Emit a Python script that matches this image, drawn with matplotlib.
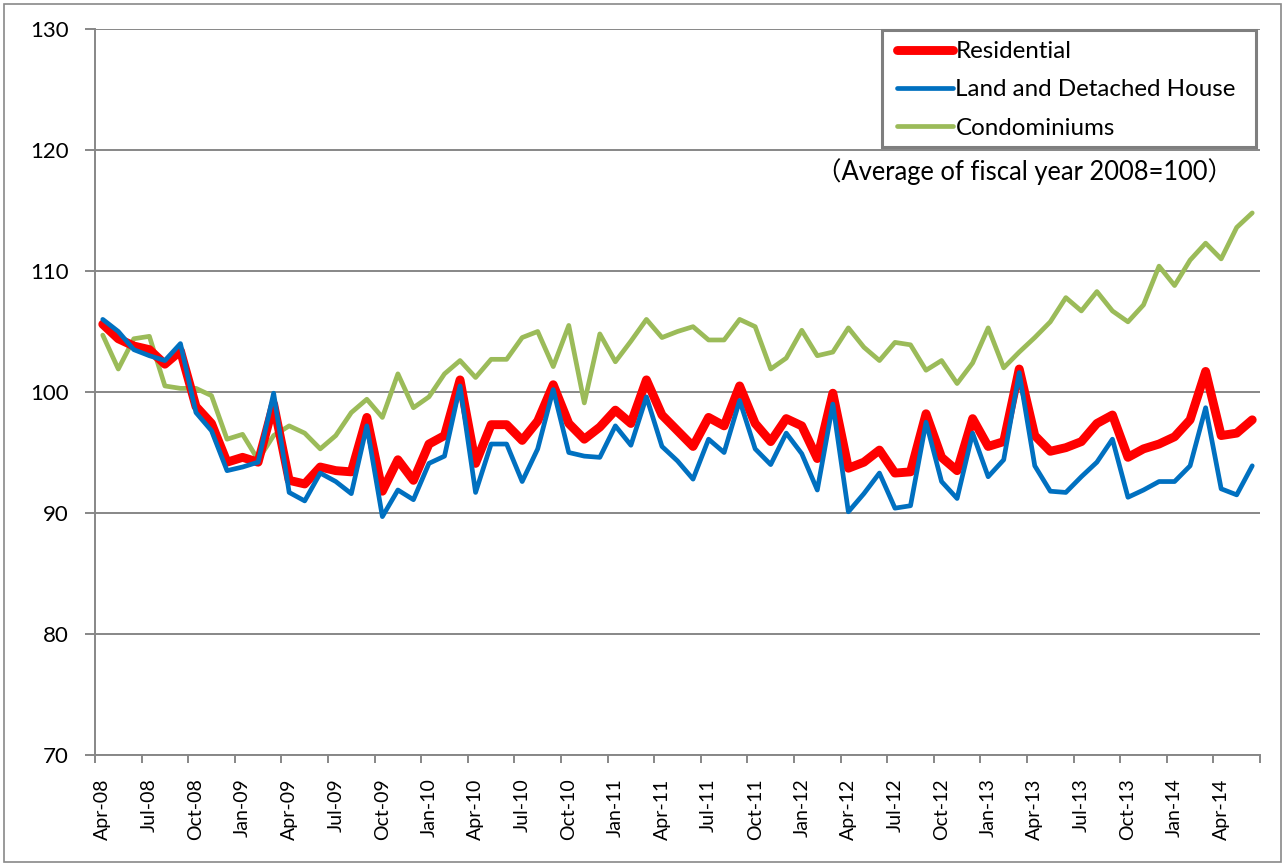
import matplotlib
matplotlib.use("Agg")
import matplotlib.pyplot as plt
from matplotlib.patches import Rectangle
from matplotlib.lines import Line2D
import numpy as np

# ---- data -------------------------------------------------------------
month_names = ["Jan", "Feb", "Mar", "Apr", "May", "Jun",
               "Jul", "Aug", "Sep", "Oct", "Nov", "Dec"]
start_year = 2008
start_month = 3   # April (0-based)
n_points = 75     # Apr-08 .. Jun-14

residential = [
    105.6, 104.4, 103.8, 103.5, 102.3, 103.4, 98.8, 97.4, 94.2, 94.6, 94.2, 99.0,
    92.7, 92.4, 93.8, 93.5, 93.4, 97.9, 91.8, 94.4, 92.7, 95.7, 96.4, 101.0,
    94.1, 97.3, 97.3, 96.0, 97.6, 100.6, 97.4, 96.1, 97.1, 98.5, 97.4, 101.0,
    98.1, 96.8, 95.5, 97.9, 97.2, 100.5, 97.4, 95.9, 97.8, 97.2, 94.5, 99.9,
    93.7, 94.2, 95.2, 93.3, 93.4, 98.2, 94.6, 93.5, 97.8, 95.5, 95.9, 101.9,
    96.4, 95.1, 95.4, 95.9, 97.4, 98.1, 94.6, 95.3, 95.7, 96.3, 97.7, 101.7,
    96.4, 96.6, 97.7,
]
land_detached = [
    106.0, 105.0, 103.5, 103.0, 102.6, 104.0, 98.3, 96.8, 93.5, 93.8, 94.2, 99.9,
    91.7, 91.0, 93.3, 92.6, 91.6, 97.2, 89.7, 91.9, 91.1, 94.1, 94.7, 100.5,
    91.7, 95.7, 95.7, 92.6, 95.3, 100.2, 95.0, 94.7, 94.6, 97.2, 95.6, 99.6,
    95.5, 94.3, 92.8, 96.1, 95.0, 99.3, 95.3, 94.0, 96.6, 94.9, 91.9, 99.0,
    90.1, 91.6, 93.3, 90.4, 90.6, 97.5, 92.6, 91.2, 96.6, 93.0, 94.4, 101.6,
    93.9, 91.8, 91.7, 93.0, 94.2, 96.1, 91.3, 91.9, 92.6, 92.6, 93.9, 98.7,
    92.0, 91.5, 93.9,
]
condominiums = [
    104.7, 101.9, 104.4, 104.6, 100.5, 100.3, 100.3, 99.7, 96.1, 96.5, 94.4, 96.4,
    97.2, 96.6, 95.3, 96.4, 98.3, 99.4, 97.9, 101.5, 98.7, 99.6, 101.5, 102.6,
    101.2, 102.7, 102.7, 104.5, 105.0, 102.1, 105.5, 99.1, 104.8, 102.5, 104.2, 106.0,
    104.5, 105.0, 105.4, 104.3, 104.3, 106.0, 105.4, 101.9, 102.8, 105.1, 103.0, 103.3,
    105.3, 103.7, 102.6, 104.1, 103.9, 101.8, 102.6, 100.7, 102.4, 105.3, 102.0, 103.3,
    104.5, 105.8, 107.8, 106.7, 108.3, 106.7, 105.8, 107.2, 110.4, 108.8, 110.9, 112.3,
    111.0, 113.6, 114.8,
]
series_names = ["Residential", "Land and Detached House", "Condominiums"]
note_text = "（Average of fiscal year 2008=100）"

labels = []
for i in range(n_points):
    m = (start_month + i) % 12
    y = start_year + (start_month + i) // 12
    labels.append(month_names[m] + "-%02d" % (y % 100))

# ---- styling ----------------------------------------------------------
FONT = ["Lato", "Noto Sans CJK JP", "DejaVu Sans"]
plt.rcParams["font.family"] = FONT
GRID = "#878787"
RED = "#FF0000"
BLUE = "#0070C0"
GREEN = "#9BBB59"
LW_RED, LW_BLUE, LW_GREEN = 6.4, 3.4, 3.4

W, H = 1285, 865
fig = plt.figure(figsize=(W / 100, H / 100), dpi=100)
fig.patch.set_facecolor("white")

def px_rect(x0, y0, x1, y1, **kw):
    """Rectangle given in figure pixels measured from the top-left."""
    return Rectangle((x0 / W, 1 - y1 / H), (x1 - x0) / W, (y1 - y0) / H,
                     transform=fig.transFigure, **kw)

# chart-area border
fig.patches.append(px_rect(4, 4, W - 4, H - 3, fill=False,
                           edgecolor="#898989", linewidth=1.2, zorder=0.5))

ax = fig.add_axes([95 / W, 1 - 755 / H, (1260 - 95) / W, (755 - 29) / H])
x = np.arange(n_points)

ax.plot(x, residential, color=RED, lw=LW_RED, solid_joinstyle="round",
        solid_capstyle="round", zorder=3)
ax.plot(x, land_detached, color=BLUE, lw=LW_BLUE, solid_joinstyle="round",
        solid_capstyle="round", zorder=4)
ax.plot(x, condominiums, color=GREEN, lw=LW_GREEN, solid_joinstyle="round",
        solid_capstyle="round", zorder=2)

ax.set_xlim(-0.5, n_points - 0.5)
ax.set_ylim(70, 130)
ax.set_yticks(np.arange(70, 131, 10))
ax.yaxis.grid(True, color=GRID, lw=1.4)
ax.set_axisbelow(True)

# x labels every 3 months at category centres, tick marks at boundaries
major = np.arange(0, n_points, 3)
ax.set_xticks(major)
ax.set_xticklabels([labels[i] for i in major], rotation=90, fontsize=14)
ax.set_xticks(np.arange(-0.5, n_points, 3), minor=True)
ax.tick_params(axis="x", which="major", length=0, pad=17)
ax.tick_params(axis="x", which="minor", length=6, width=1.4, color=GRID,
               direction="out")
ax.tick_params(axis="y", length=7, width=1.4, color=GRID, labelsize=16, pad=12)

for side in ("top", "right"):
    ax.spines[side].set_visible(False)
for side in ("left", "bottom"):
    ax.spines[side].set_color(GRID)
    ax.spines[side].set_linewidth(1.4)

# legend box (drawn separately to get Excel-like padding)
fig.patches.append(px_rect(882, 30, 1256, 147, facecolor="white",
                           edgecolor="#7F7F7F", linewidth=2.2, zorder=4))

handles = [Line2D([], [], color=RED, lw=LW_RED, solid_capstyle="round"),
           Line2D([], [], color=BLUE, lw=LW_BLUE, solid_capstyle="round"),
           Line2D([], [], color=GREEN, lw=LW_GREEN, solid_capstyle="round")]
leg = fig.legend(handles, series_names, loc="upper left",
                 bbox_to_anchor=(897 / W, 1 - 41 / H), fontsize=17.4,
                 frameon=False, handlelength=2.3, handletextpad=0.12,
                 labelspacing=0.72, borderpad=0, borderaxespad=0)
leg.set_zorder(5)

fig.text(1024 / W, 1 - 172 / H, note_text, ha="center", va="center",
         fontsize=18.4, family=FONT)

fig.savefig("out.png", dpi=100, facecolor="white")
